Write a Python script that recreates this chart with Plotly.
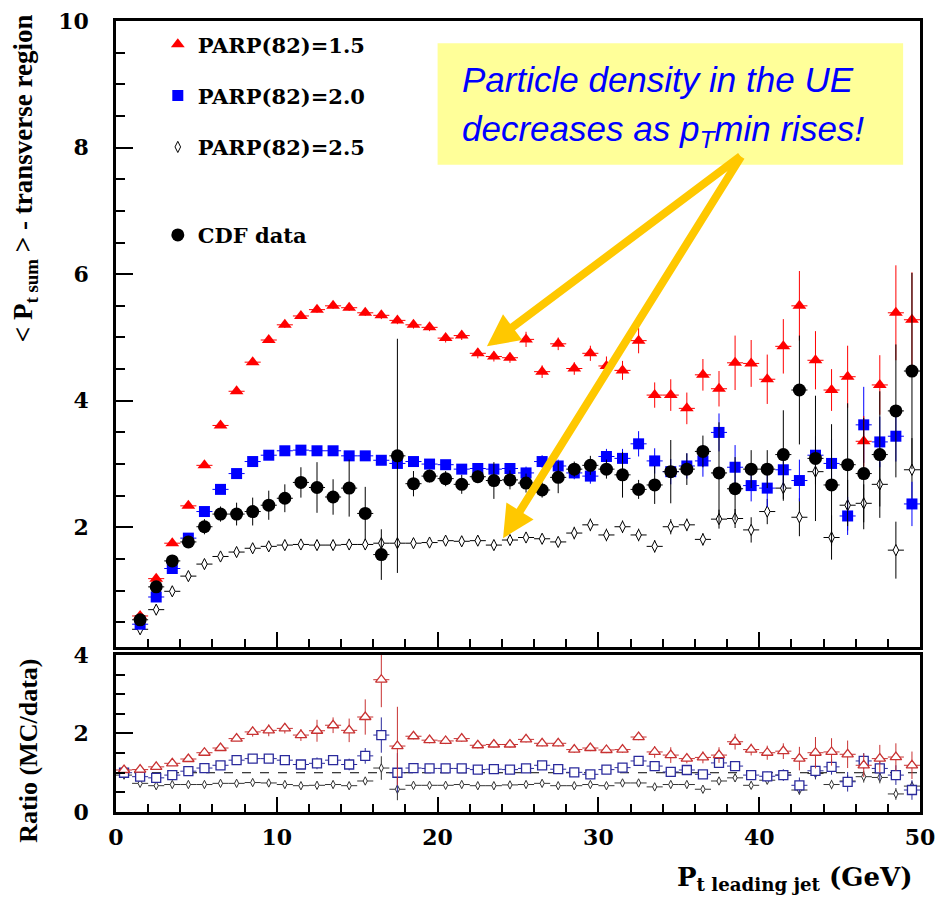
import plotly.graph_objects as go

# ---- bin centres (GeV) ----
pt_centres = [1.5, 2.5, 3.5, 4.5, 5.5, 6.5, 7.5, 8.5, 9.5, 10.5, 11.5, 12.5, 13.5, 14.5,
              15.5, 16.5, 17.5, 18.5, 19.5, 20.5, 21.5, 22.5, 23.5, 24.5, 25.5, 26.5, 27.5,
              28.5, 29.5, 30.5, 31.5, 32.5, 33.5, 34.5, 35.5, 36.5, 37.5, 38.5, 39.5, 40.5,
              41.5, 42.5, 43.5, 44.5, 45.5, 46.5, 47.5, 48.5, 49.5]
ratio_centres = [0.5] + pt_centres
half_bin = 0.5

# ---- <Pt sum> in the transverse region ----
parp15 = [0.60, 1.19, 1.75, 2.34, 2.98, 3.61, 4.15, 4.61, 4.96, 5.20, 5.34, 5.44, 5.50, 5.47,
          5.39, 5.35, 5.27, 5.20, 5.16, 4.99, 5.03, 4.75, 4.70, 4.68, 4.97, 4.46, 4.90, 4.51,
          4.75, 4.55, 4.48, 4.95, 4.09, 4.09, 3.88, 4.41, 4.19, 4.60, 4.59, 4.34, 4.86, 5.50,
          4.64, 4.17, 4.38, 3.36, 4.25, 5.39, 5.28]
parp15_err = [0.03, 0.03, 0.03, 0.03, 0.03, 0.04, 0.04, 0.04, 0.04, 0.05, 0.05,
              0.05, 0.05, 0.05, 0.05, 0.06, 0.06, 0.06, 0.06, 0.07, 0.07, 0.08, 0.08, 0.08,
              0.12, 0.10, 0.10, 0.10, 0.12, 0.15, 0.15,
              0.20, 0.20, 0.25, 0.25, 0.25, 0.28, 0.43, 0.37, 0.39, 0.43, 0.55, 0.46, 0.33,
              0.49, 0.40, 0.47, 0.75, 0.75]

parp20 = [0.47, 0.90, 1.35, 1.83, 2.25, 2.60, 2.85, 3.04, 3.14, 3.21, 3.22, 3.21, 3.21, 3.13,
          3.13, 3.06, 3.01, 3.04, 3.00, 2.99, 2.92, 2.93, 2.92, 2.93, 2.86, 3.04, 2.97, 2.86,
          2.81, 3.12, 3.09, 3.32, 3.05, 2.88, 2.97, 3.05, 3.50, 2.95, 2.66, 2.62, 2.91, 2.74,
          3.14, 3.01, 2.18, 3.62, 3.35, 3.44, 2.37]
parp20_err = [0.03, 0.03, 0.03, 0.03, 0.03, 0.03, 0.03, 0.03, 0.03, 0.03, 0.03,
              0.04, 0.04, 0.05, 0.05, 0.05, 0.05, 0.06, 0.06, 0.06, 0.06, 0.07, 0.07, 0.08,
              0.10, 0.10, 0.10, 0.10, 0.12, 0.12, 0.15,
              0.20, 0.20, 0.20, 0.20, 0.25, 0.30, 0.35, 0.25, 0.30, 0.30, 0.33, 0.30, 0.38,
              0.30, 0.60, 0.40, 0.40, 0.35]

parp25 = [0.39, 0.70, 0.99, 1.23, 1.42, 1.54, 1.61, 1.67, 1.70, 1.72, 1.73, 1.72, 1.72, 1.73,
          1.73, 1.75, 1.75, 1.75, 1.76, 1.79, 1.78, 1.79, 1.72, 1.80, 1.84, 1.82, 1.77, 1.91,
          2.04, 1.88, 2.01, 1.88, 1.70, 2.01, 2.04, 1.81, 2.13, 2.14, 1.96, 2.25, 2.62, 2.16,
          2.88, 1.84, 2.35, 2.38, 2.68, 1.64, 2.91]
parp25_err = [0.02, 0.02, 0.02, 0.02, 0.02, 0.02, 0.02, 0.02, 0.02, 0.02, 0.02,
              0.03, 0.03, 0.03, 0.03, 0.03, 0.03, 0.03, 0.03,
              0.04, 0.04, 0.04, 0.04, 0.04, 0.04, 0.04, 0.04,
              0.10, 0.10, 0.10, 0.10, 0.10, 0.10, 0.12, 0.10, 0.10, 0.15, 0.15, 0.20, 0.20,
              0.20, 0.30, 0.20, 0.35, 0.40, 0.30, 0.35, 0.45, 0.50]

cdf_data = [0.54, 1.06, 1.47, 1.77, 2.01, 2.21, 2.21, 2.25, 2.35, 2.46, 2.71, 2.63, 2.48, 2.62,
            2.22, 1.57, 3.13, 2.69, 2.81, 2.77, 2.68, 2.80, 2.74, 2.75, 2.70, 2.59, 2.79, 2.92,
            2.98, 2.92, 2.83, 2.60, 2.67, 2.88, 2.92, 3.20, 2.86, 2.61, 2.92, 2.92, 3.15, 4.17,
            3.09, 2.67, 2.99, 2.85, 3.15, 3.84, 4.47]
cdf_err = [0.05, 0.06, 0.07, 0.08, 0.12, 0.12, 0.18, 0.22, 0.23, 0.22, 0.24, 0.40, 0.28, 0.45,
           0.42, 0.40, 1.85, 0.20, 0.10, 0.12, 0.15, 0.10, 0.29, 0.15, 0.15, 0.12, 0.25, 0.12,
           0.15, 0.15, 0.36, 0.15, 0.30, 0.50, 0.25, 0.25, 0.80, 0.50, 0.30, 0.30, 0.70, 0.86,
           0.99, 0.96, 0.97, 0.88, 1.00, 1.05, 1.55]

# ---- MC / data ratios ----
ratio15 = [1.07, 1.08, 1.15, 1.24, 1.35, 1.51, 1.63, 1.87, 2.04, 2.08, 2.13, 1.96, 2.07, 2.21,
           2.08, 2.42, 3.37, 1.68, 1.93, 1.83, 1.81, 1.87, 1.70, 1.72, 1.72, 1.85, 1.75, 1.75,
           1.59, 1.63, 1.58, 1.59, 1.91, 1.53, 1.45, 1.36, 1.39, 1.45, 1.79, 1.59, 1.51, 1.55,
           1.36, 1.51, 1.53, 1.47, 1.19, 1.36, 1.40, 1.19]
ratio15_err = [0.04, 0.04, 0.04, 0.04, 0.04, 0.04, 0.04, 0.04,
               0.12, 0.15, 0.13, 0.15, 0.28, 0.20, 0.30, 0.45, 0.70, 1.00,
               0.08, 0.08, 0.08, 0.08, 0.08, 0.08, 0.08, 0.08, 0.08, 0.08, 0.08, 0.08, 0.08,
               0.08, 0.08,
               0.15, 0.20, 0.12, 0.15, 0.20, 0.20, 0.15, 0.18, 0.20, 0.30, 0.40, 0.35, 0.35,
               0.30, 0.35, 0.35, 0.35]

ratio20 = [1.00, 0.90, 0.87, 0.94, 1.04, 1.12, 1.19, 1.32, 1.36, 1.36, 1.32, 1.21, 1.24, 1.32,
           1.21, 1.43, 1.96, 1.00, 1.12, 1.11, 1.11, 1.11, 1.08, 1.09, 1.08, 1.11, 1.19, 1.09,
           1.01, 0.96, 1.08, 1.13, 1.30, 1.17, 1.02, 1.07, 0.96, 1.25, 1.17, 0.94, 0.91, 0.94,
           0.68, 1.05, 1.15, 0.77, 1.30, 1.11, 0.94, 0.56]
ratio20_err = [0.03, 0.03, 0.03, 0.03, 0.03, 0.03, 0.03, 0.03,
               0.06, 0.08, 0.07, 0.08, 0.15, 0.10, 0.15, 0.20, 0.45, 0.50,
               0.05, 0.05, 0.05, 0.05, 0.05, 0.05, 0.05, 0.05, 0.05, 0.05, 0.05, 0.05, 0.05,
               0.05, 0.05,
               0.10, 0.12, 0.10, 0.10, 0.12, 0.12, 0.12, 0.12, 0.15, 0.20, 0.20, 0.20, 0.25,
               0.20, 0.30, 0.25, 0.25]

ratio25 = [0.94, 0.73, 0.67, 0.70, 0.70, 0.70, 0.73, 0.73, 0.75, 0.74, 0.70, 0.67, 0.68, 0.70,
           0.67, 0.79, 1.12, 0.58, 0.68, 0.68, 0.68, 0.70, 0.67, 0.67, 0.69, 0.70, 0.73, 0.67,
           0.67, 0.70, 0.67, 0.74, 0.74, 0.64, 0.70, 0.70, 0.58, 0.79, 0.87, 0.68, 0.81, 0.94,
           0.56, 0.98, 0.70, 0.79, 0.90, 0.88, 0.46, 0.66]
ratio25_err = [0.03, 0.03, 0.03, 0.03, 0.03, 0.03, 0.03, 0.03, 0.03, 0.03, 0.03, 0.03, 0.03,
               0.03, 0.03, 0.03, 0.30, 0.28,
               0.03, 0.03, 0.03, 0.03, 0.03, 0.03, 0.03, 0.03, 0.03, 0.03, 0.03, 0.03, 0.03,
               0.03, 0.03,
               0.06, 0.08, 0.06, 0.06, 0.08, 0.08, 0.08, 0.10, 0.10, 0.12, 0.15, 0.12, 0.15,
               0.15, 0.15, 0.15, 0.12]

x_ticks = [0, 10, 20, 30, 40, 50]

RED, BLUE, BLACK = "#ff0000", "#0000ff", "#000000"
RED_R, BLUE_R, GREY_R = "#c83232", "#2a2a9c", "#333333"
SERIF = "DejaVu Serif"
TITLE_SERIF = "Liberation Serif"


def errs(err, color, thick=1.0):
    return (dict(type="data", array=err, color=color, thickness=thick, width=0),
            dict(type="constant", value=half_bin, color=color, thickness=thick, width=0))


fig = go.Figure()

# upper panel: model curves and data (legendrank fixes the legend order)
series = [
    ("PARP(82)=2.5", parp25, parp25_err, dict(symbol="diamond-tall", size=8, color="white",
                                                line=dict(color=BLACK, width=1)), BLACK, "g3", 3),
    ("PARP(82)=2.0", parp20, parp20_err, dict(symbol="square", size=11, color=BLUE), BLUE, "g2", 2),
    ("PARP(82)=1.5", parp15, parp15_err, dict(symbol="triangle-up", size=12, color=RED), RED, "g1", 1),
]
for name, vals, err, marker, col, grp, rank in series:
    ey, ex = errs(err, col)
    fig.add_trace(go.Scatter(x=pt_centres, y=vals, mode="markers", name=name, marker=marker,
                             error_y=ey, error_x=ex, xaxis="x", yaxis="y",
                             legendgroup=grp, legendrank=rank, legend="legend"))

ey, ex = errs(cdf_err, BLACK)
fig.add_trace(go.Scatter(x=pt_centres, y=cdf_data, mode="markers", name="CDF data",
                         marker=dict(symbol="circle", size=13, color=BLACK),
                         error_y=ey, error_x=ex, xaxis="x", yaxis="y", legend="legend2"))

# lower panel: ratios
ratio_series = [
    (ratio25, ratio25_err, dict(symbol="diamond-tall", size=6, color="white",
                                line=dict(color=GREY_R, width=1)), GREY_R),
    (ratio20, ratio20_err, dict(symbol="square", size=9, color="white",
                                line=dict(color=BLUE_R, width=1.3)), BLUE_R),
    (ratio15, ratio15_err, dict(symbol="triangle-up", size=10, color="white",
                                line=dict(color=RED_R, width=1.3)), RED_R),
]
for vals, err, marker, col in ratio_series:
    ey, ex = errs(err, col)
    fig.add_trace(go.Scatter(x=ratio_centres, y=vals, mode="markers", marker=marker,
                             error_y=ey, error_x=ex, xaxis="x2", yaxis="y2",
                             showlegend=False, cliponaxis=True))

tick_font = dict(family=SERIF, size=22, color="black", weight="bold")
axis_common = dict(showline=True, linecolor="black", linewidth=2.5, mirror=True,
                   showgrid=False, zeroline=False, ticks="inside", tickcolor="black",
                   tickwidth=1.5, tickfont=tick_font, ticklabeloverflow="allow",
                   automargin=False)
minor_x = dict(dtick=2, ticklen=8, ticks="inside", tickcolor="black", tickwidth=1.5)
minor_y = dict(dtick=0.5, ticklen=9, ticks="inside", tickcolor="black", tickwidth=1.5)
legend_font = dict(family=SERIF, size=21, color="black", weight="bold")

fig.update_layout(
    width=935, height=905,
    margin=dict(l=116, r=15, t=21, b=93, autoexpand=False),
    paper_bgcolor="white", plot_bgcolor="white",
    xaxis=dict(domain=[0, 1], range=[0, 50], anchor="y", tickvals=x_ticks,
               showticklabels=False, ticklen=15, minor=minor_x, **axis_common),
    yaxis=dict(domain=[0.2086, 1], range=[0.11, 10], anchor="x", tick0=0, dtick=2,
               ticklen=17, ticklabelstandoff=20, minor=minor_y, **axis_common),
    xaxis2=dict(domain=[0, 1], range=[0, 50], anchor="y2", tickvals=x_ticks,
                ticklen=15, ticklabelstandoff=4, minor=minor_x, **axis_common),
    yaxis2=dict(domain=[0, 0.1985], range=[0, 4], anchor="x2", tick0=0, dtick=2,
                ticklen=17, ticklabelstandoff=20, minor=minor_y, **axis_common),
    legend=dict(x=0.052, y=0.996, xanchor="left", yanchor="top", bgcolor="rgba(0,0,0,0)",
                traceorder="grouped", tracegroupgap=21, font=legend_font),
    legend2=dict(x=0.052, y=0.755, xanchor="left", yanchor="top", bgcolor="rgba(0,0,0,0)",
                 font=legend_font),
    shapes=[
        dict(type="line", xref="x2", yref="y2", x0=0, x1=50, y0=1, y1=1,
             line=dict(color="black", width=1, dash="dash"), layer="below"),
        dict(type="rect", xref="x", yref="y", x0=20.0, x1=48.95, y0=7.73, y1=9.65,
             fillcolor="#ffff99", line=dict(width=0), layer="above"),
    ],
)

ann_font = dict(family="Liberation Sans", size=35, color="#0000ff", style="italic")
fig.update_layout(annotations=[
    dict(text="Particle density in the UE", xref="x", yref="y", x=21.4, y=9.08,
         xanchor="left", yanchor="middle", showarrow=False, font=ann_font),
    dict(text="decreases as p<sub>T</sub>min rises!", xref="x", yref="y", x=21.4, y=8.27,
         xanchor="left", yanchor="middle", showarrow=False, font=ann_font),
    dict(text="", xref="x", yref="y", x=23.07, y=4.86, axref="x", ayref="y", ax=38.93, ay=7.88,
         showarrow=True, arrowhead=2, arrowsize=0.8, arrowwidth=8, arrowcolor="#ffc800"),
    dict(text="", xref="x", yref="y", x=24.07, y=1.83, axref="x", ayref="y", ax=38.93, ay=7.88,
         showarrow=True, arrowhead=2, arrowsize=0.8, arrowwidth=8, arrowcolor="#ffc800"),
    dict(text="&lt; P<sub>t sum</sub> &gt; - transverse region", xref="paper", yref="paper",
         x=-0.113, y=0.8015, xanchor="center", yanchor="middle", textangle=-90,
         showarrow=False, font=dict(family=TITLE_SERIF, size=27, color="black", weight="bold")),
    dict(text="Ratio (MC/data)", xref="paper", yref="paper", x=-0.109, y=0.078,
         xanchor="center", yanchor="middle", textangle=-90, showarrow=False,
         font=dict(family=TITLE_SERIF, size=26, color="black", weight="bold")),
    dict(text="P<sub>t leading jet</sub> (GeV)", xref="paper", yref="paper", x=0.994, y=-0.084,
         xanchor="right", yanchor="middle", showarrow=False,
         font=dict(family=SERIF, size=26, color="black", weight="bold")),
])

fig.write_html("out.html")
